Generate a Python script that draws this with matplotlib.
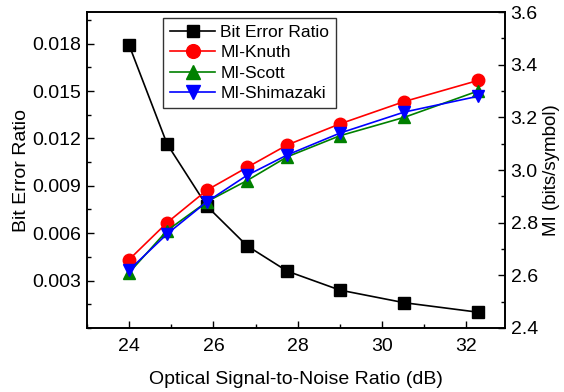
import matplotlib
matplotlib.use("Agg")
import matplotlib.pyplot as plt
from matplotlib.ticker import MultipleLocator

plt.rcParams['font.family'] = ['Liberation Sans', 'DejaVu Sans']

osnr = [24.0, 24.9, 25.85, 26.8, 27.75, 29.0, 30.53, 32.28]
ber = [0.0179, 0.01165, 0.0077, 0.0052, 0.0036, 0.0024, 0.0016, 0.0010]
mi_knuth = [2.66, 2.80, 2.924, 3.01, 3.095, 3.175, 3.26, 3.34]
mi_scott = [2.61, 2.77, 2.88, 2.96, 3.05, 3.13, 3.20, 3.30]
mi_shimazaki = [2.62, 2.757, 2.88, 2.98, 3.057, 3.14, 3.22, 3.28]

fig = plt.figure(figsize=(5.64, 3.92), dpi=100)
ax = fig.add_axes([87/564, 1-328/392, (505-87)/564, (328-12)/392])
ax2 = ax.twinx()

l1, = ax.plot(osnr, ber, '-s', color='black', mfc='black', mec='black', ms=8, lw=1.2, label='Bit Error Ratio')
l2, = ax2.plot(osnr, mi_knuth, '-o', color='red', ms=9, lw=1.2, label='MI-Knuth')
l3, = ax2.plot(osnr, mi_scott, '-^', color='green', ms=9, lw=1.2, label='MI-Scott')
l4, = ax2.plot(osnr, mi_shimazaki, '-v', color='blue', ms=9, lw=1.2, label='MI-Shimazaki')

ax.set_xlim(23.0, 32.92)
ax.set_ylim(0, 0.020)
ax2.set_ylim(2.4, 3.6)

ax.xaxis.set_major_locator(MultipleLocator(2))
ax.xaxis.set_minor_locator(MultipleLocator(1))
ax.yaxis.set_minor_locator(MultipleLocator(0.0015))
ax.set_yticks([0.003, 0.006, 0.009, 0.012, 0.015, 0.018])
ax.set_yticklabels(['0.003', '0.006', '0.009', '0.012', '0.015', '0.018'])
ax2.yaxis.set_minor_locator(MultipleLocator(0.1))
ax2.set_yticks([2.4, 2.6, 2.8, 3.0, 3.2, 3.4, 3.6])
ax2.set_yticklabels(['2.4', '2.6', '2.8', '3.0', '3.2', '3.4', '3.6'])

for a in (ax, ax2):
    a.tick_params(which='major', direction='in', length=5, width=1, labelsize=14, pad=4)
    a.tick_params(which='minor', direction='in', length=3, width=1)
    for s in a.spines.values():
        s.set_linewidth(1.2)
ax.tick_params(axis='x', pad=7)

ax.set_xlabel('Optical Signal-to-Noise Ratio (dB)', fontsize=14, labelpad=12)
ax.set_ylabel('Bit Error Ratio', fontsize=14, labelpad=2)
ax2.set_ylabel('MI (bits/symbol)', fontsize=13.5, labelpad=4)

leg = ax.legend(handles=[l1, l2, l3, l4], loc='upper left', bbox_to_anchor=(0.182, 0.981),
                borderaxespad=0, fontsize=12.5, frameon=True, fancybox=False, edgecolor='black',
                handlelength=2.6, borderpad=0.4, labelspacing=0.3, handletextpad=0.3,
                markerscale=1.1)
leg.get_frame().set_linewidth(1.0)

fig.savefig('out.png', dpi=100)
